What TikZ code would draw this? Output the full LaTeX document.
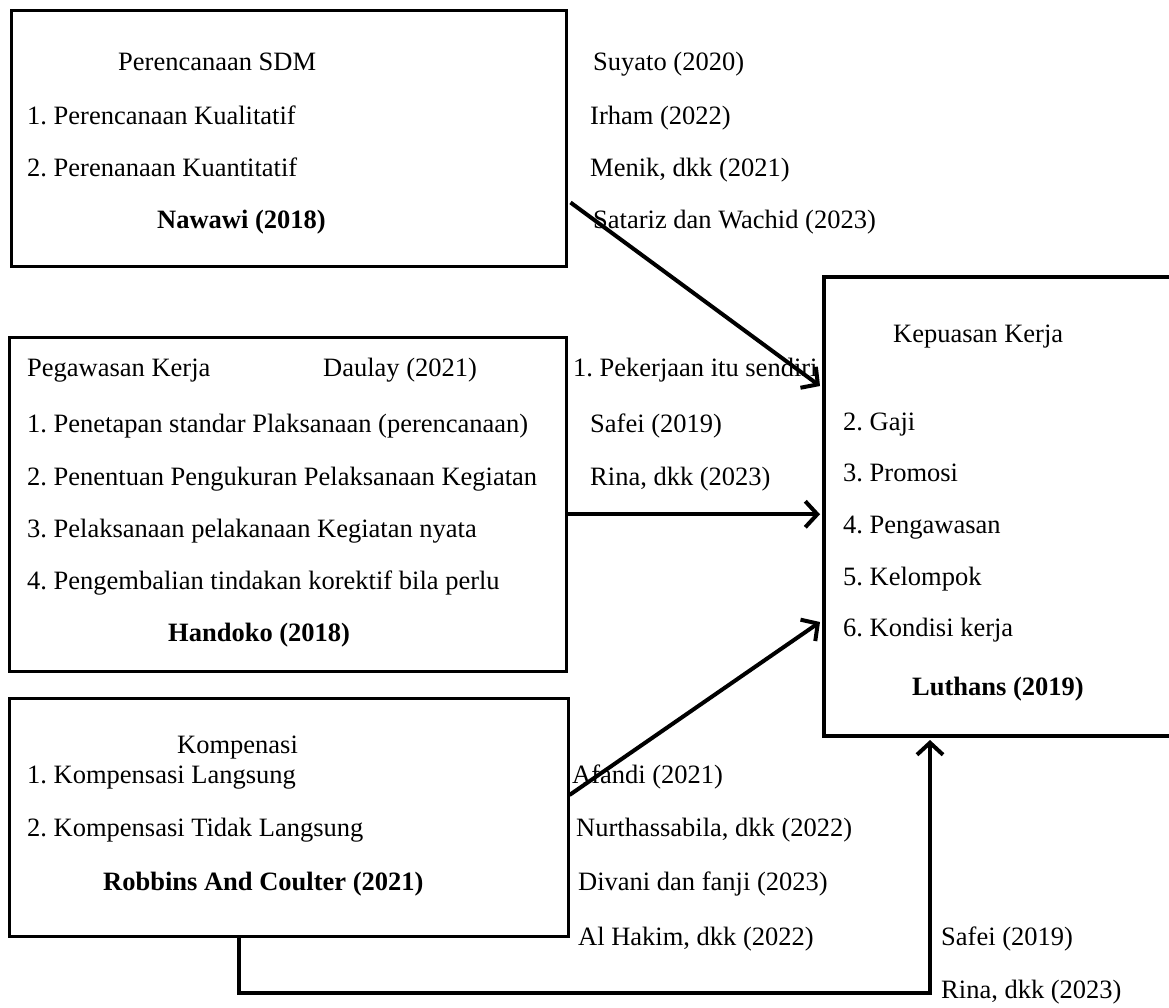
\documentclass[tikz,border=0pt]{standalone}
\usepackage{fontspec}
\setmainfont{Liberation Serif}
\usetikzlibrary{arrows.meta,calc}
\frenchspacing
\begin{document}
\begin{tikzpicture}[x=1pt,y=-1pt,
  box/.style={draw, line width=2.5pt, anchor=north west, inner sep=0pt},
  txt/.style={anchor=base west, inner sep=0pt, font=\fontsize{26.5}{30}\selectfont},
  bld/.style={anchor=base west, inner sep=0pt, font=\fontsize{26.5}{30}\selectfont\bfseries},
  arr/.style={line width=4pt, -{Straight Barb[length=12pt,width=26pt]}}]
\useasboundingbox (0,0) rectangle (1169,1007);
\clip (0,0) rectangle (1169,1007);
% boxes
\node[box, minimum width=555pt, minimum height=256pt] (b1) at (10,9) {};
\node[box, minimum width=557pt, minimum height=334pt] (b2) at (8,336) {};
\node[box, minimum width=559pt, minimum height=238pt] (b3) at (8,697) {};
\node[box, line width=4pt, minimum width=360pt, minimum height=459pt] (kep) at (822,275) {};
% box 1 texts
\node[txt] (t11) at (118,70) {Perencanaan SDM};
\node[txt] (t12) at (27,124) {1. Perencanaan Kualitatif};
\node[txt] (t13) at (27,176) {2. Perenanaan Kuantitatif};
\node[bld] (t14) at (157,228) {Nawawi (2018)};
% right column 1
\node[txt] (r11) at (593,70) {Suyato (2020)};
\node[txt] (r12) at (590,124) {Irham (2022)};
\node[txt] (r13) at (590,176) {Menik, dkk (2021)};
\node[txt] (r14) at (593,228) {Satariz dan Wachid (2023)};
% box 2 texts
\node[txt] (t21) at (27,376) {Pegawasan Kerja};
\node[txt] (t22) at (323,376) {Daulay (2021)};
\node[txt] (t23) at (27,432) {1. Penetapan standar Plaksanaan (perencanaan)};
\node[txt] (t24) at (27,485) {2. Penentuan Pengukuran Pelaksanaan Kegiatan};
\node[txt] (t25) at (27,537) {3. Pelaksanaan pelakanaan Kegiatan nyata};
\node[txt] (t26) at (27,589) {4. Pengembalian tindakan korektif bila perlu};
\node[bld] (t27) at (168,641) {Handoko (2018)};
% right column 2
\node[txt] (r21) at (573,376) {1. Pekerjaan itu sendiri};
\node[txt] (r22) at (590,432) {Safei (2019)};
\node[txt] (r23) at (590,485) {Rina, dkk (2023)};
% box 3 texts
\node[txt] (t31) at (177,753) {Kompenasi};
\node[txt] (t32) at (27,783) {1. Kompensasi Langsung};
\node[txt] (t33) at (27,836) {2. Kompensasi Tidak Langsung};
\node[bld] (t34) at (103,890) {Robbins And Coulter (2021)};
% right column 3
\node[txt] (r31) at (572,783) {Afandi (2021)};
\node[txt] (r32) at (576,836) {Nurthassabila, dkk (2022)};
\node[txt] (r33) at (578,890) {Divani dan fanji (2023)};
\node[txt] (r34) at (578,945) {Al Hakim, dkk (2022)};
\node[txt] (r35) at (941,945) {Safei (2019)};
\node[txt] (r36) at (941,998) {Rina, dkk (2023)};
% kepuasan texts
\node[txt] (k1) at (893,342) {Kepuasan Kerja};
\node[txt] (k2) at (843,430) {2. Gaji};
\node[txt] (k3) at (843,481) {3. Promosi};
\node[txt] (k4) at (843,533) {4. Pengawasan};
\node[txt] (k5) at (843,585) {5. Kelompok};
\node[txt] (k6) at (843,636) {6. Kondisi kerja};
\node[bld] (k7) at (912,695) {Luthans (2019)};
% connectors
\draw[arr] ($(b1.south east)+(3,-65)$) -- ($(kep.north west)+(-2,111)$);
\draw[arr] ($(b2.east)+(0,10)$) -- ($(b2.east -| kep.west)+(-2,10)$);
\draw[arr] ($(b3.north east)+(0,98)$) -- ($(kep.north west)+(-2,347)$);
\draw[arr] ($(b3.south)+(-50,0)$) -- ++(0,55) -| ($(kep.south west)+(108,2)$);
\end{tikzpicture}
\end{document}
